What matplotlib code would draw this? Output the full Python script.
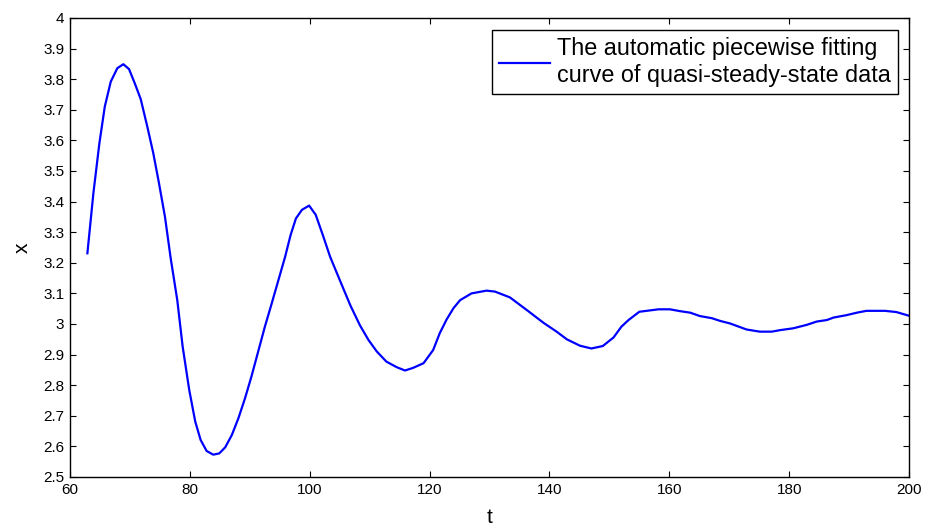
import matplotlib
matplotlib.use('Agg')
import matplotlib.pyplot as plt
from matplotlib.ticker import FuncFormatter

# values
t = [62.9, 63.9, 64.9, 65.8, 66.8, 67.9, 68.9, 69.85, 70.8, 71.8,
     72.9, 73.9, 74.85, 75.85, 76.8, 77.9, 78.8, 79.9, 80.9, 81.8,
     82.8, 83.9, 84.9, 85.9, 87.0, 88.1, 89.2, 90.3, 91.4, 92.5,
     93.7, 94.8, 95.9, 96.8, 97.7, 98.7, 99.9, 101.0, 102.2, 103.4,
     104.9, 106.8, 108.4, 109.8, 111.2, 112.8, 114.5, 115.9, 117.3, 119.0,
     120.6, 121.7, 122.85, 124.0, 125.1, 127.0, 129.5, 130.9, 133.4, 136.2,
     139.0, 141.2, 142.9, 145.1, 147.0, 148.9, 150.7, 152.0, 153.2, 155.0,
     158.2, 160.1, 161.8, 163.5, 165.1, 167.1, 168.5, 170.1, 172.9, 175.1,
     177.1, 178.5, 180.7, 182.9, 184.6, 186.3, 187.4, 189.6, 191.3, 192.9,
     196.0, 197.9, 200.0]
x = [3.231, 3.427, 3.59, 3.71, 3.792, 3.836, 3.849, 3.833, 3.787, 3.735,
     3.645, 3.558, 3.46, 3.35, 3.215, 3.078, 2.926, 2.784, 2.681, 2.621,
     2.585, 2.573, 2.577, 2.597, 2.637, 2.692, 2.757, 2.83, 2.91, 2.99,
     3.07, 3.145, 3.22, 3.29, 3.345, 3.373, 3.387, 3.357, 3.29, 3.22,
     3.149, 3.06, 2.995, 2.948, 2.91, 2.877, 2.859, 2.848, 2.857, 2.872,
     2.915, 2.97, 3.015, 3.052, 3.078, 3.10, 3.109, 3.106, 3.087, 3.046,
     3.004, 2.975, 2.95, 2.929, 2.92, 2.928, 2.956, 2.991, 3.013, 3.04,
     3.048, 3.048, 3.042, 3.037, 3.026, 3.019, 3.01, 3.002, 2.982, 2.975,
     2.975, 2.98, 2.986, 2.997, 3.008, 3.013, 3.021, 3.029, 3.037, 3.043,
     3.043, 3.039, 3.027]

xticks = [60, 80, 100, 120, 140, 160, 180, 200]
yticks = [2.5, 2.6, 2.7, 2.8, 2.9, 3.0, 3.1, 3.2, 3.3, 3.4, 3.5, 3.6, 3.7, 3.8, 3.9, 4.0]
label = 'The automatic piecewise fitting\ncurve of quasi-steady-state data'

plt.rcParams['font.family'] = ['Liberation Sans', 'DejaVu Sans']

fig = plt.figure(figsize=(9.27, 5.30), dpi=100)
ax = fig.add_axes([70 / 927, 1 - 477 / 530, 839 / 927, 459 / 530])

ax.plot(t, x, color='#0000ff', linewidth=1.6, label=label)

ax.set_xlim(60, 200)
ax.set_ylim(2.5, 4)
ax.set_xticks(xticks)
ax.set_yticks(yticks)
ax.yaxis.set_major_formatter(FuncFormatter(lambda v, p: '%g' % round(v, 2)))
ax.tick_params(direction='in', top=True, right=True, length=4.5, width=0.8,
               labelsize=11, pad=4)
for s in ax.spines.values():
    s.set_linewidth(1.0)

ax.set_xlabel('t', fontsize=15, labelpad=8)
ax.set_ylabel('x', fontsize=15, labelpad=8)

# legend box: matlab style, square black frame in the upper right
leg = ax.legend(loc='upper right', bbox_to_anchor=(0.9869, 0.9739), borderaxespad=0,
                fontsize=16.8, fancybox=False, edgecolor='black', framealpha=1,
                handlelength=2.2, handletextpad=0.3, borderpad=0.3)
leg.get_frame().set_linewidth(1.0)

plt.savefig('out.png', dpi=100)
